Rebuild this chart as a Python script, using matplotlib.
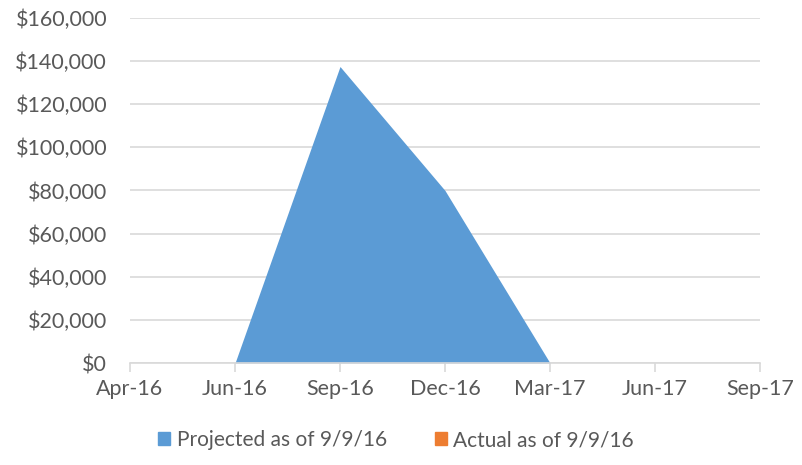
import matplotlib
matplotlib.use("Agg")
import matplotlib.pyplot as plt
from matplotlib.patches import Patch
from matplotlib.ticker import FuncFormatter

tick_labels = ["Apr-16", "Jun-16", "Sep-16", "Dec-16", "Mar-17", "Jun-17", "Sep-17"]
proj_dates = ["Jun-16", "Sep-16", "Dec-16", "Mar-17"]
proj_values = [0, 137500, 80000, 0]
actual_dates = []
actual_values = []

plt.rcParams['font.family'] = ['Lato', 'DejaVu Sans']
text_color = "#595959"
grid_color = "#d9d9d9"
blue = "#5B9BD5"
orange = "#ED7D31"
fs = 15.5
lfs = 15

fig = plt.figure(figsize=(8.02, 4.65), dpi=100)
ax = fig.add_axes([130/802, 1-363/465, 630/802, 345/465])

pos = {lab: i for i, lab in enumerate(tick_labels)}
px = [pos[d] for d in proj_dates]
ax.fill_between(px, proj_values, 0, color=blue, linewidth=0, zorder=2)
if actual_values:
    ax.fill_between([pos[d] for d in actual_dates], actual_values, 0, color=orange, linewidth=0, zorder=3)

ax.set_xlim(0, len(tick_labels) - 1)
ax.set_ylim(0, 160000)
ax.set_yticks(range(0, 160001, 20000))
ax.yaxis.set_major_formatter(FuncFormatter(lambda v, p: f"${int(v):,}"))
ax.set_xticks(range(len(tick_labels)))
ax.set_xticklabels(tick_labels)

ax.grid(axis='y', color=grid_color, linewidth=1.2, zorder=0)
ax.set_axisbelow(True)
for s in ['top', 'right', 'left']:
    ax.spines[s].set_visible(False)
ax.spines['bottom'].set_color(grid_color)
ax.spines['bottom'].set_linewidth(1.2)
ax.tick_params(axis='y', length=0, labelsize=fs, labelcolor=text_color, pad=16.5)
ax.tick_params(axis='x', length=6.5, width=1.2, color=grid_color, labelsize=fs,
               labelcolor=text_color, pad=5)

handles = [Patch(color=blue, label="Projected as of 9/9/16"),
           Patch(color=orange, label="Actual as of 9/9/16")]
fig.legend(handles=handles, loc='center', bbox_to_anchor=(396/802, 1-440/465), ncol=2,
           frameon=False, fontsize=lfs, labelcolor=text_color, handlelength=0.6,
           handleheight=0.6, handletextpad=0.3, columnspacing=2.3)

fig.savefig("out.png", dpi=100)
